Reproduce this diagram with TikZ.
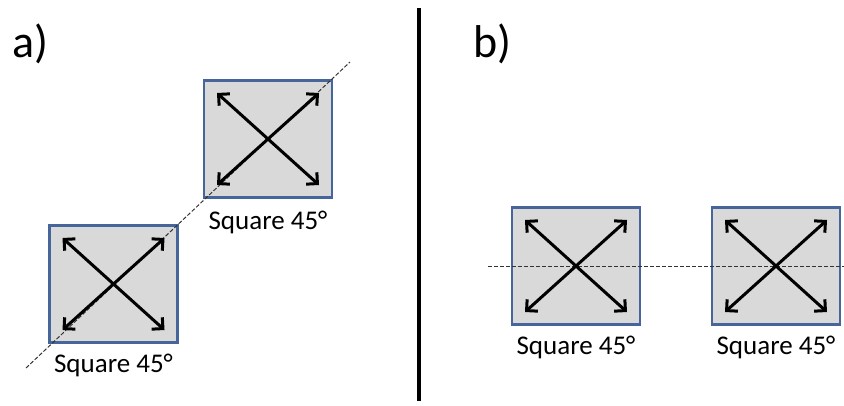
\documentclass[tikz,border=0pt]{standalone}
\usepackage{fontspec}
\setmainfont{Carlito}
\usetikzlibrary{arrows.meta,calc}
\definecolor{sqborder}{RGB}{70,102,155}
\definecolor{sqfill}{RGB}{217,217,217}
\tikzset{
  sq/.style={draw=sqborder, fill=sqfill, line width=2.5pt, minimum width=128pt, minimum height=117pt, inner sep=0pt},
  dbl/.style={line width=3pt, {Straight Barb[length=8pt,width=16pt,line width=3pt]}-{Straight Barb[length=8pt,width=16pt,line width=3pt]}},
  axis/.style={dashed, dash pattern=on 4pt off 2pt, line width=1pt, black!80},
  lbl/.style={anchor=base, inner sep=0pt, font=\fontsize{27}{32}\selectfont},
  panel/.style={anchor=base west, inner sep=0pt, font=\fontsize{46}{52}\selectfont},
}
\begin{document}
\begin{tikzpicture}[x=1pt,y=-1pt]
\useasboundingbox (0,0) rectangle (844,405);
% panel labels
\node[panel] (la) at (12,57) {a)};
\node[panel] (lb) at (473,57) {b)};
% separator
\coordinate (vt) at (419,8);
\coordinate (vb) at (419,401);
\draw[line width=3.5pt] (vt) -- (vb);
% dashed axes
\coordinate (da1) at (26,368);
\coordinate (da2) at (350,62);
\coordinate (db1) at (488,266);
\coordinate (db2) at (844,266);
% squares
\node[sq] (s1) at (268,139) {};
\node[sq] (s2) at (113.5,284) {};
\node[sq] (s3) at (576,266) {};
\node[sq] (s4) at (776,266) {};
\draw[axis] (da1) -- (da2);
\draw[axis] (db1) -- (db2);
% arrows
\foreach \s in {s1,s2,s3,s4}{
  \draw[dbl] ($(\s.center)+(-51,-46)$) -- ($(\s.center)+(51,46)$);
  \draw[dbl] ($(\s.center)+(-51,46)$) -- ($(\s.center)+(51,-46)$);
}
% labels
\node[lbl] (t1) at ($(s1.south)+(0,31)$) {Square 45°};
\node[lbl] (t2) at ($(s2.south)+(0,29)$) {Square 45°};
\node[lbl] (t3) at ($(s3.south)+(0,29)$) {Square 45°};
\node[lbl] (t4) at ($(s4.south)+(0,29)$) {Square 45°};
\end{tikzpicture}
\end{document}
